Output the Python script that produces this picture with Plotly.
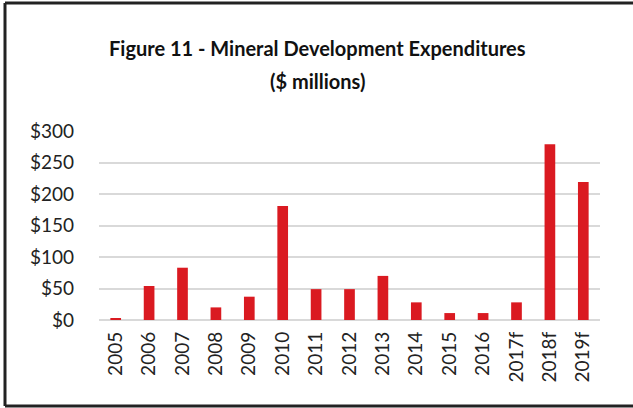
import plotly.graph_objects as go

# ── Data ──────────────────────────────────────────────────────────────────────
years = ["2005", "2006", "2007", "2008", "2009", "2010", "2011", "2012",
         "2013", "2014", "2015", "2016", "2017f", "2018f", "2019f"]
spend = [3, 54, 83, 20, 37, 181, 49, 49, 70, 28, 11, 11, 28, 279, 219]

_RED = "#DA1A21"
_FONT = "Lato, sans-serif"

fig = go.Figure(go.Bar(
    x=years, y=spend,
    marker=dict(color=_RED, line=dict(width=0)),
))

fig.update_layout(
    width=633, height=408,
    plot_bgcolor="white",
    paper_bgcolor="white",
    font=dict(family=_FONT, size=19, color="#222222"),
    margin=dict(l=99, r=33, t=131, b=88),
    bargap=0.68,
    showlegend=False,
)

fig.update_xaxes(
    type="category",
    tickangle=-90,
    tickfont=dict(size=19),
    ticklabelstandoff=7,
    showgrid=False,
    showline=False,
)
fig.update_yaxes(
    range=[0, 300],
    dtick=50,
    tickprefix="$",
    tickfont=dict(size=19),
    ticklabelstandoff=24,
    gridcolor="#D9D9D9",
    gridwidth=2,
    zeroline=True,
    zerolinecolor="#D9D9D9",
    zerolinewidth=2,
)

# two-line title
for txt, py in [("Figure 11 - Mineral Development Expenditures", 48),
                ("($ millions)", 81)]:
    fig.add_annotation(
        text=f"<b>{txt}</b>",
        xref="paper", yref="paper", x=0.437, y=(320 - py) / 189,
        showarrow=False, font=dict(size=20, family=_FONT, color="#111111"),
        xanchor="center", yanchor="middle",
    )

# frame: left, top and bottom edges only (right side runs off the image)
xl, xr = (5 - 99) / 501, (720 - 99) / 501
yb, yt = (320 - 406) / 189, (320 - 3) / 189
for x0, y0, x1, y1 in [(xl, yb, xl, yt), (xl, yt, xr, yt), (xl, yb, xr, yb)]:
    fig.add_shape(
        type="line", xref="paper", yref="paper",
        x0=x0, y0=y0, x1=x1, y1=y1,
        line=dict(color="#222222", width=3),
        layer="above",
    )

fig.write_html(
    "out.html",
    config={"displayModeBar": False},
    post_script="document.body.style.margin='0';document.body.style.overflow='hidden';",
)
